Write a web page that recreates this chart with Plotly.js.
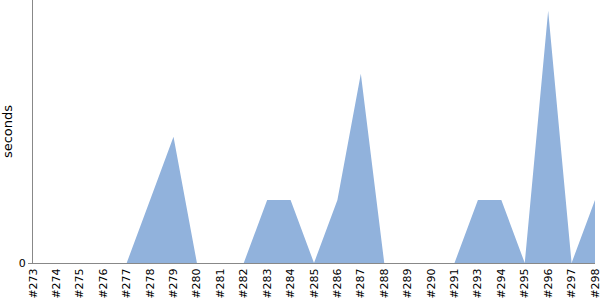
<!DOCTYPE html>
<html><head><meta charset="utf-8">
<script src="https://cdn.plot.ly/plotly-3.0.1.min.js"></script>
<style>html,body{margin:0;padding:0;background:#fff}#c{width:600px;height:300px}</style>
</head><body><div id="c"></div>
<script>
const builds = ["#273","#274","#275","#276","#277","#278","#279","#280","#281","#282","#283","#284","#285","#286","#287","#288","#289","#290","#291","#293","#294","#295","#296","#297","#298"];
const seconds = [0,0,0,0,0,1,2,0,0,0,1,1,0,1,3,0,0,0,0,1,1,0,4,0,1];

Plotly.newPlot('c', [{
  x: builds, y: seconds, type: 'scatter', mode: 'none', fill: 'tozeroy',
  fillcolor: 'rgb(145,178,220)', hoverinfo: 'none'
}], {
  width: 600, height: 300,
  margin: {l: 33, r: 5, t: 0, b: 37, pad: 0},
  paper_bgcolor: '#fff', plot_bgcolor: '#fff',
  font: {family: 'DejaVu Sans, sans-serif', size: 11, color: '#000'},
  showlegend: false,
  xaxis: {type: 'category', range: [0, builds.length - 1], tickangle: -90,
    showgrid: false, zeroline: false, showline: true, linecolor: '#888', linewidth: 1,
    ticks: '', tickfont: {size: 11}},
  yaxis: {range: [0, 4.17], tickvals: [0], ticktext: ['0'], showgrid: false, zeroline: false,
    showline: true, linecolor: '#888', linewidth: 1, ticks: 'outside', ticklen: 4, tickcolor: '#888',
    title: {text: 'seconds', font: {size: 13}, standoff: 4}}
}, {staticPlot: true});
</script></body></html>
